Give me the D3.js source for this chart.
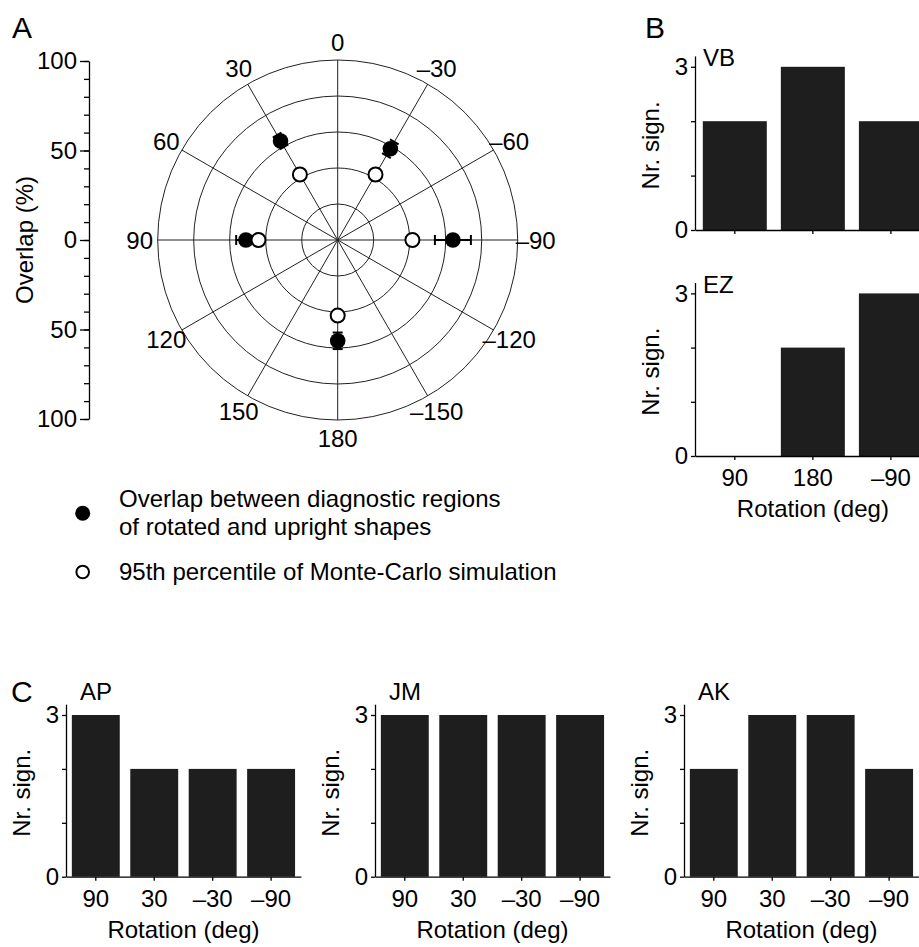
<!DOCTYPE html>
<html lang="en">
<head>
  <meta charset="UTF-8">
  <title>Overlap and significance by rotation</title>
  <style type="text/css">
    body{
      margin: 0;
      background: #fff;
    }
    svg text{
      font-family: "Liberation Sans", Arial, sans-serif;
      font-size: 24px;
      fill: black;
    }
    svg text.panel{
      font-size: 30px;
    }
    .axis path,
    .axis line{
      stroke: black;
      stroke-width: 1.3px;
      fill: none;
    }
    .axis text{
      font-size: 24px;
    }
    .grid{
      stroke: #222;
      stroke-width: 1px;
      fill: none;
    }
    .bar{
      fill: #1e1e1e;
    }
  </style>
  <script type="text/javascript" src="https://d3js.org/d3.v7.min.js"></script>
</head>
<body>
<script type="text/javascript">
  // ---- data ----
  var polarAngles   = [30, -30, 90, -90, 180];          // rotation (deg)
  var overlapMean   = [63.5, 58.5, 51, 64, 56];          // filled dots, %
  var overlapErr    = [3.8, 4.4, 5.4, 10, 4.6];          // error bars, %
  var mcPercentile  = [42, 42, 44, 41.5, 42];            // open dots, %
  var ringLevels    = [20, 40, 60, 80, 100];
  var angleLabels   = [0, 30, 60, 90, 120, 150, 180, -150, -120, -90, -60, -30];
  var overlapTicks  = [-100, -50, 0, 50, 100];

  var rotationsB = ['90', '180', '\u201390'];
  var countsVB   = [2, 3, 2];
  var countsEZ   = [0, 2, 3];

  var rotationsC = ['90', '30', '\u201330', '\u201390'];
  var countsAP   = [3, 2, 2, 2];
  var countsJM   = [3, 3, 3, 3];
  var countsAK   = [2, 3, 3, 2];

  var svg = d3.select('body')
    .append('svg')
    .attr('width', 919)
    .attr('height', 947);

  function fmt(v){ return v < 0 ? '\u2013' + Math.abs(v) : String(v); }

  // ---------- panel A : polar plot ----------
  var cx = 337.7, cy = 240;
  var rScale = d3.scaleLinear().domain([0, 100]).range([0, 180]);

  function px(a, v){ return cx - rScale(v) * Math.sin(a * Math.PI / 180); }
  function py(a, v){ return cy - rScale(v) * Math.cos(a * Math.PI / 180); }

  var polar = svg.append('g');

  polar.selectAll('.ring')
    .data(ringLevels)
    .enter().append('circle')
    .attr('class', 'grid')
    .attr('cx', cx)
    .attr('cy', cy)
    .attr('r', function(d){ return rScale(d); });

  polar.selectAll('.spoke')
    .data(angleLabels)
    .enter().append('line')
    .attr('class', 'grid')
    .attr('x1', cx)
    .attr('y1', cy)
    .attr('x2', function(d){ return px(d, 100); })
    .attr('y2', function(d){ return py(d, 100); });

  polar.selectAll('.alabel')
    .data(angleLabels)
    .enter().append('text')
    .attr('x', function(d){ return px(d, 110); })
    .attr('y', function(d){ return py(d, 110); })
    .attr('text-anchor', 'middle')
    .attr('dy', '0.36em')
    .text(fmt);

  var pts = polarAngles.map(function(a, i){
    return {a: a, m: overlapMean[i], e: overlapErr[i], mc: mcPercentile[i]};
  });

  // error bars (radial) with caps
  var eb = polar.selectAll('.eb')
    .data(pts)
    .enter().append('g');

  eb.append('line')
    .attr('x1', function(d){ return px(d.a, d.m - d.e); })
    .attr('y1', function(d){ return py(d.a, d.m - d.e); })
    .attr('x2', function(d){ return px(d.a, d.m + d.e); })
    .attr('y2', function(d){ return py(d.a, d.m + d.e); })
    .style('stroke', 'black')
    .style('stroke-width', 2);

  [-1, 1].forEach(function(s){
    eb.append('line')
      .attr('transform', function(d){
        return 'translate(' + px(d.a, d.m + s * d.e) + ',' + py(d.a, d.m + s * d.e) + ') rotate(' + (-d.a) + ')';
      })
      .attr('x1', -5)
      .attr('x2', 5)
      .style('stroke', 'black')
      .style('stroke-width', 2);
  });

  polar.selectAll('.mean')
    .data(pts)
    .enter().append('circle')
    .attr('cx', function(d){ return px(d.a, d.m); })
    .attr('cy', function(d){ return py(d.a, d.m); })
    .attr('r', 7.8)
    .style('fill', 'black');

  polar.selectAll('.mc')
    .data(pts)
    .enter().append('circle')
    .attr('cx', function(d){ return px(d.a, d.mc); })
    .attr('cy', function(d){ return py(d.a, d.mc); })
    .attr('r', 7)
    .style('fill', 'white')
    .style('stroke', 'black')
    .style('stroke-width', 2);

  // left overlap axis (mirrored 100 .. 0 .. 100)
  var yOver = d3.scaleLinear().domain([-100, 100]).range([cy + 179, cy - 179]);

  svg.append('g')
    .attr('class', 'axis')
    .attr('transform', 'translate(89,0)')
    .call(d3.axisLeft(yOver).tickValues(d3.range(-100, 101, 10)).tickSize(5).tickFormat(''))
    .call(function(g){ g.select('.domain').remove(); });

  svg.append('g')
    .attr('class', 'axis')
    .attr('transform', 'translate(89,0)')
    .call(d3.axisLeft(yOver).tickValues(overlapTicks).tickSize(9).tickSizeOuter(0)
      .tickFormat(function(d){ return Math.abs(d); }));

  svg.append('text')
    .attr('transform', 'translate(33,' + cy + ') rotate(-90)')
    .attr('text-anchor', 'middle')
    .text('Overlap (%)');

  svg.append('text').attr('class', 'panel').attr('x', 12).attr('y', 38).text('A');

  // legend
  svg.append('circle').attr('cx', 82.7).attr('cy', 513.3).attr('r', 7.5).style('fill', 'black');
  svg.append('text').attr('x', 119).attr('y', 507).text('Overlap between diagnostic regions');
  svg.append('text').attr('x', 119).attr('y', 535).text('of rotated and upright shapes');
  svg.append('circle').attr('cx', 82.7).attr('cy', 572).attr('r', 6.3)
    .style('fill', 'white').style('stroke', 'black').style('stroke-width', 2);
  svg.append('text').attr('x', 119).attr('y', 580).text('95th percentile of Monte-Carlo simulation');

  // ---------- bar panels ----------
  function barPanel(o){
    var g = svg.append('g');
    var x = d3.scaleBand()
      .domain(o.cats)
      .range([o.x0, o.x0 + o.w])
      .paddingInner(0.18)
      .paddingOuter(0.1);
    var y = d3.scaleLinear()
      .domain([0, 3.2])
      .range([o.y0, o.y0 - 3.2 * o.unit]);

    g.selectAll('.bar')
      .data(o.vals)
      .enter().append('rect')
      .attr('class', 'bar')
      .attr('x', function(d, i){ return x(o.cats[i]); })
      .attr('width', x.bandwidth())
      .attr('y', function(d){ return y(d); })
      .attr('height', function(d){ return y(0) - y(d); });

    g.append('g')
      .attr('class', 'axis')
      .attr('transform', 'translate(' + o.x0 + ',0)')
      .call(d3.axisLeft(y).tickValues([0, 1, 2, 3]).tickSize(4).tickSizeOuter(0)
        .tickFormat(function(d){ return (d === 0 || d === 3) ? d : ''; }));

    g.append('g')
      .attr('class', 'axis')
      .attr('transform', 'translate(0,' + o.y0 + ')')
      .call(d3.axisBottom(x).tickSize(4).tickSizeOuter(0).tickPadding(9)
        .tickFormat(o.xlabels ? null : ''));

    g.append('text')
      .attr('transform', 'translate(' + (o.x0 - 36) + ',' + ((y(0) + y(3)) / 2 - 3) + ') rotate(-90)')
      .attr('text-anchor', 'middle')
      .text('Nr. sign.');

    g.append('text')
      .attr('x', o.x0 + o.lx)
      .attr('y', y(3) - o.ly)
      .text(o.name);

    if (o.xlabels){
      g.append('text')
        .attr('x', o.x0 + o.w / 2)
        .attr('y', o.y0 + 61)
        .attr('text-anchor', 'middle')
        .text('Rotation (deg)');
    }
  }

  barPanel({name: 'VB', cats: rotationsB, vals: countsVB, x0: 695, w: 235.7, y0: 230, unit: 54.4, lx: 8, ly: 1, xlabels: false});
  barPanel({name: 'EZ', cats: rotationsB, vals: countsEZ, x0: 695, w: 235.7, y0: 456, unit: 54.2, lx: 8, ly: 0, xlabels: true});
  svg.append('text').attr('class', 'panel').attr('x', 645).attr('y', 38).text('B');

  barPanel({name: 'AP', cats: rotationsC, vals: countsAP, x0: 66,  w: 234.9, y0: 876.7, unit: 53.9, lx: 14, ly: 15, xlabels: true});
  barPanel({name: 'JM', cats: rotationsC, vals: countsJM, x0: 375, w: 234.9, y0: 876.7, unit: 53.9, lx: 14, ly: 15, xlabels: true});
  barPanel({name: 'AK', cats: rotationsC, vals: countsAK, x0: 684, w: 234.9, y0: 876.7, unit: 53.9, lx: 14, ly: 15, xlabels: true});
  svg.append('text').attr('class', 'panel').attr('x', 11).attr('y', 702).text('C');
</script>
</body>
</html>
